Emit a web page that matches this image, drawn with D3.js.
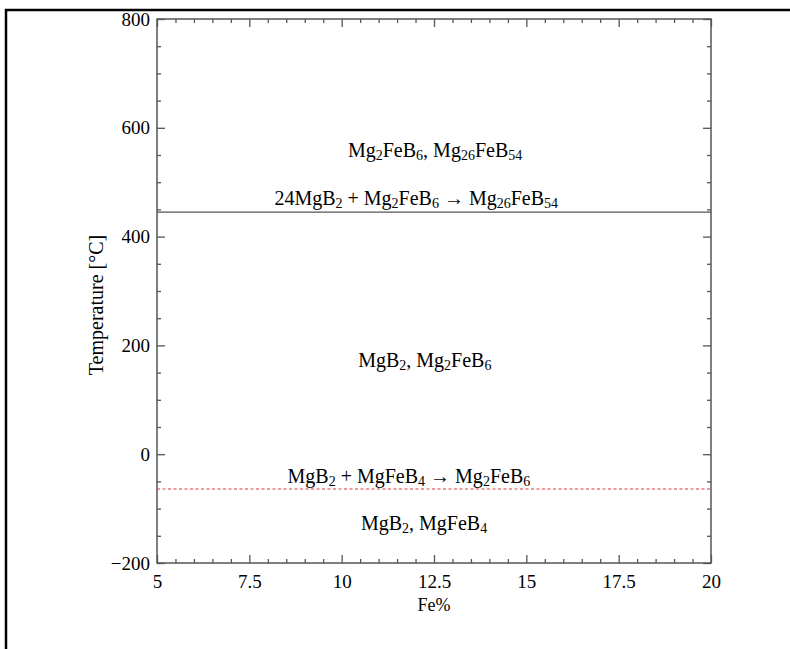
<!DOCTYPE html>
<html>
<head>
<meta charset="utf-8">
<script src="https://cdn.jsdelivr.net/npm/d3@7"></script>
<style>
  html, body { margin: 0; padding: 0; background: #fff; }
  svg { display: block; }
  text { font-family: "Liberation Serif", "Times New Roman", serif; fill: #000; }
</style>
</head>
<body>
<svg id="chart" width="790" height="649"></svg>
<script>
// ---------- data ----------
const xDomain = [5, 20];
const yDomain = [-200, 800];
const xMajorTicks = [5, 7.5, 10, 12.5, 15, 17.5, 20];
const yMajorTicks = [-200, 0, 200, 400, 600, 800];
const xMinorStep = 0.5;
const yMinorStep = 50;

// reaction / boundary lines (temperature, °C)
const solidLineTemps = [445];
const dashedLineTemps = [-64];

// phase-field and reaction labels (TeX-like "_{}" = subscript)
const labelTexts = [
  "Mg_{2}FeB_{6}, Mg_{26}FeB_{54}",
  "24MgB_{2} + Mg_{2}FeB_{6} → Mg_{26}FeB_{54}",
  "MgB_{2}, Mg_{2}FeB_{6}",
  "MgB_{2} + MgFeB_{4} → Mg_{2}FeB_{6}",
  "MgB_{2}, MgFeB_{4}"
];
const labelX = [12.53, 12.02, 12.25, 11.82, 12.23];
const labelY = [547, 458, 160, -53, -139];

const xLabel = "Fe%";
const yLabel = "Temperature [°C]";

// ---------- layout ----------
const svg = d3.select("#chart");
const pL = 157, pR = 711, pT = 19, pB = 563;
const FONT = '"Liberation Serif", "Times New Roman", serif';

const x = d3.scaleLinear().domain(xDomain).range([pL, pR]);
const y = d3.scaleLinear().domain(yDomain).range([pB, pT]);

// outer frame (left + top edges visible in reference)
svg.append("path")
  .attr("d", `M6,649 L6,10 L790,10`)
  .attr("fill", "none")
  .attr("stroke", "#000")
  .attr("stroke-width", 2.5);

const axisColor = "#555";

function minorValues(domain, step, majors) {
  const out = [];
  const n = Math.round((domain[1] - domain[0]) / step);
  for (let i = 0; i <= n; i++) {
    const v = domain[0] + i * step;
    if (!majors.some(m => Math.abs(m - v) < 1e-9)) out.push(v);
  }
  return out;
}
const xMinor = minorValues(xDomain, xMinorStep, xMajorTicks);
const yMinor = minorValues(yDomain, yMinorStep, yMajorTicks);

function styleAxis(g) {
  g.attr("font-family", FONT).attr("font-size", 19);
  g.select(".domain").remove();
  g.selectAll(".tick line").attr("stroke", axisColor).attr("stroke-width", 1.3);
  g.selectAll(".tick text")
    .attr("font-family", FONT)
    .attr("font-size", 19)
    .attr("fill", "#000");
}

// bottom
svg.append("g").attr("transform", `translate(0,${pB})`)
  .call(d3.axisBottom(x).tickValues(xMajorTicks).tickSizeInner(-8).tickSizeOuter(0).tickPadding(12)
        .tickFormat(d => d3.format("~g")(d)))
  .call(styleAxis);
svg.append("g").attr("transform", `translate(0,${pB})`)
  .call(d3.axisBottom(x).tickValues(xMinor).tickSizeInner(-4).tickSizeOuter(0).tickFormat(""))
  .call(styleAxis);
// top
svg.append("g").attr("transform", `translate(0,${pT})`)
  .call(d3.axisTop(x).tickValues(xMajorTicks).tickSizeInner(-8).tickSizeOuter(0).tickFormat(""))
  .call(styleAxis);
svg.append("g").attr("transform", `translate(0,${pT})`)
  .call(d3.axisTop(x).tickValues(xMinor).tickSizeInner(-4).tickSizeOuter(0).tickFormat(""))
  .call(styleAxis);
// left
svg.append("g").attr("transform", `translate(${pL},0)`)
  .call(d3.axisLeft(y).tickValues(yMajorTicks).tickSizeInner(-8).tickSizeOuter(0).tickPadding(7))
  .call(styleAxis);
svg.append("g").attr("transform", `translate(${pL},0)`)
  .call(d3.axisLeft(y).tickValues(yMinor).tickSizeInner(-4).tickSizeOuter(0).tickFormat(""))
  .call(styleAxis);
// right
svg.append("g").attr("transform", `translate(${pR},0)`)
  .call(d3.axisRight(y).tickValues(yMajorTicks).tickSizeInner(-8).tickSizeOuter(0).tickFormat(""))
  .call(styleAxis);
svg.append("g").attr("transform", `translate(${pR},0)`)
  .call(d3.axisRight(y).tickValues(yMinor).tickSizeInner(-4).tickSizeOuter(0).tickFormat(""))
  .call(styleAxis);

// plot frame
svg.append("rect")
  .attr("x", pL).attr("y", pT)
  .attr("width", pR - pL).attr("height", pB - pT)
  .attr("fill", "none").attr("stroke", axisColor).attr("stroke-width", 1.5);

// solid reaction line
svg.selectAll("line.solid").data(solidLineTemps).enter().append("line")
  .attr("class", "solid")
  .attr("x1", x(xDomain[0])).attr("x2", x(xDomain[1]))
  .attr("y1", d => y(d)).attr("y2", d => y(d))
  .attr("stroke", "#555").attr("stroke-width", 1.4);

// dashed reaction line
svg.selectAll("line.dashed").data(dashedLineTemps).enter().append("line")
  .attr("class", "dashed")
  .attr("x1", x(xDomain[0])).attr("x2", x(xDomain[1]))
  .attr("y1", d => y(d)).attr("y2", d => y(d))
  .attr("stroke", "#e03a3a").attr("stroke-width", 1.1)
  .attr("stroke-dasharray", "3,2.5");

// labels with subscripts
function addRich(textSel, str, subSize) {
  const parts = str.split(/(_\{[^}]*\})/).filter(s => s.length);
  let inSub = false;
  parts.forEach(p => {
    if (p.startsWith("_{")) {
      textSel.append("tspan").text(p.slice(2, -1))
        .attr("dy", inSub ? 0 : 3).attr("font-size", subSize);
      inSub = true;
    } else {
      textSel.append("tspan").text(p).attr("dy", inSub ? -3 : 0);
      inSub = false;
    }
  });
}

labelTexts.forEach((t, i) => {
  const tx = svg.append("text")
    .attr("x", x(labelX[i])).attr("y", y(labelY[i]))
    .attr("text-anchor", "middle")
    .attr("font-family", FONT)
    .attr("font-size", 20);
  addRich(tx, t, 14);
});

// axis titles
svg.append("text")
  .attr("x", (pL + pR) / 2).attr("y", 611)
  .attr("text-anchor", "middle")
  .attr("font-family", FONT)
  .attr("font-size", 18)
  .text(xLabel);

svg.append("text")
  .attr("transform", `translate(103,305) rotate(-90)`)
  .attr("text-anchor", "middle")
  .attr("font-family", FONT)
  .attr("font-size", 20)
  .text(yLabel);
</script>
</body>
</html>
